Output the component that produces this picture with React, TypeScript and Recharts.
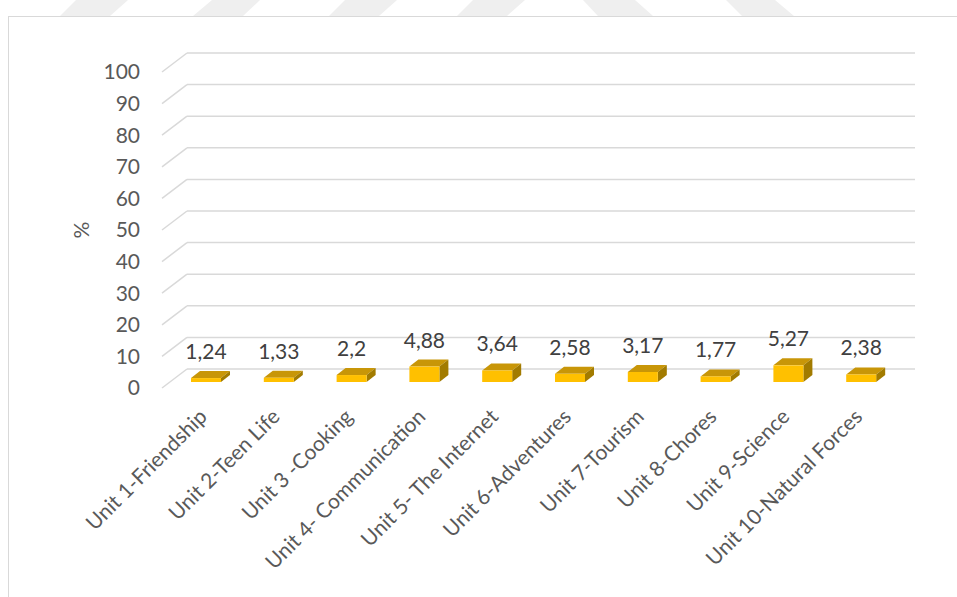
import React from 'react';
import { ComposedChart, Bar, XAxis, YAxis, CartesianGrid, LabelList } from 'recharts';

const categories = [
  'Unit 1-Friendship',
  'Unit 2-Teen Life',
  'Unit 3 -Cooking',
  'Unit 4- Communication',
  'Unit 5- The Internet',
  'Unit 6-Adventures',
  'Unit 7-Tourism',
  'Unit 8-Chores',
  'Unit 9-Science',
  'Unit 10-Natural Forces',
];
const values = [1.24, 1.33, 2.2, 4.88, 3.64, 2.58, 3.17, 1.77, 5.27, 2.38];
const yTicks = [0, 10, 20, 30, 40, 50, 60, 70, 80, 90, 100];

const data = categories.map((name, i) => ({ name, value: values[i] }));

// fake 3D: wall depth and where the bars sit inside it
const WALL_DX = 25;
const WALL_DY = 19;
const BAR_OFF_X = 8;
const BAR_OFF_Y = 6;
const BAR_DX = 9;
const BAR_DY = 7;

const FONT = 'Lato, "Open Sans", sans-serif';
const FS = 21;

const Box3D = (props: any) => {
  const { x, y, width, height } = props;
  const fx = x + BAR_OFF_X;
  const fy = y - BAR_OFF_Y;
  return (
    <g>
      <polygon
        points={`${fx},${fy} ${fx + BAR_DX},${fy - BAR_DY} ${fx + width + BAR_DX},${fy - BAR_DY} ${fx + width},${fy}`}
        fill="#C89608"
      />
      <polygon
        points={`${fx + width},${fy} ${fx + width + BAR_DX},${fy - BAR_DY} ${fx + width + BAR_DX},${fy + height - BAR_DY} ${fx + width},${fy + height}`}
        fill="#A27B00"
      />
      <rect x={fx} y={fy} width={width} height={height} fill="#FFC000" />
    </g>
  );
};

const GridLine = (p: any) => (
  <g key={p.key}>
    <line x1={p.x1} y1={p.y1} x2={p.x1 + WALL_DX} y2={p.y1 - WALL_DY} stroke="#D9D9D9" strokeWidth={1.5} />
    <line x1={p.x1 + WALL_DX} y1={p.y1 - WALL_DY} x2={p.x2 + WALL_DX} y2={p.y1 - WALL_DY} stroke="#D9D9D9" strokeWidth={1.5} />
  </g>
);

const CategoryTick = ({ x, y, payload }: any) => {
  const ax = x + 10;
  const ay = y + 30;
  return (
    <text
      x={ax}
      y={ay}
      transform={`rotate(-45, ${ax}, ${ay})`}
      textAnchor="end"
      fill="#595959"
      fontSize={FS}
      fontFamily={FONT}
    >
      {payload.value}
    </text>
  );
};

const ValueLabel = (p: any) => (
  <text
    x={p.x + p.width / 2 + BAR_OFF_X}
    y={p.y - BAR_OFF_Y - 19}
    textAnchor="middle"
    fill="#404040"
    fontSize={FS}
    fontFamily={FONT}
  >
    {String(p.value).replace('.', ',')}
  </text>
);

const App = () => {
  return (
    <div style={{ position: 'absolute', left: 0, top: 0, width: 957, height: 597, overflow: 'hidden', background: '#fff' }}>
      {/* watermark stripes at the top edge */}
      <svg width={957} height={16} style={{ position: 'absolute', left: 0, top: 0 }}>
        <polygon points="76,0 128,0 110,16 60,16" fill="#EFEFEF" />
        <polygon points="212,0 260,0 243,16 193,16" fill="#EFEFEF" />
        <polygon points="345,0 397,0 379,16 329,16" fill="#EFEFEF" />
        <polygon points="473,0 525,0 507,16 457,16" fill="#EFEFEF" />
        <polygon points="583,0 635,0 653,16 598,16" fill="#EFEFEF" />
        <polygon points="726,0 775,0 794,16 742,16" fill="#EFEFEF" />
      </svg>
      <div
        style={{
          position: 'absolute',
          left: 8,
          top: 16,
          width: 1000,
          height: 700,
          border: '1.5px solid #D9D9D9',
          boxSizing: 'border-box',
        }}
      />
      <div style={{ position: 'absolute', left: 0, top: 0 }}>
        <ComposedChart width={957} height={597} data={data} margin={{ top: 72, right: 67, bottom: 59, left: 102 }}>
          <CartesianGrid vertical={false} horizontal={GridLine} />
          <XAxis
            dataKey="name"
            axisLine={false}
            tickLine={false}
            tickSize={0}
            tickMargin={0}
            height={150}
            interval={0}
            tick={<CategoryTick />}
          />
          <YAxis
            domain={[0, 100]}
            ticks={yTicks}
            axisLine={false}
            tickLine={false}
            tickSize={0}
            tickMargin={22}
            width={60}
            tick={{ fill: '#595959', fontSize: FS, fontFamily: FONT }}
            label={{
              content: (lp: any) => (
                <text
                  x={lp.viewBox.x - 22}
                  y={lp.viewBox.y + lp.viewBox.height / 2}
                  transform={`rotate(-90, ${lp.viewBox.x - 22}, ${lp.viewBox.y + lp.viewBox.height / 2})`}
                  textAnchor="middle"
                  dominantBaseline="central"
                  fill="#595959"
                  fontSize={FS}
                  fontFamily={FONT}
                >
                  %
                </text>
              ),
            }}
          />
          <Bar dataKey="value" barSize={30} shape={<Box3D />} isAnimationActive={false}>
            <LabelList dataKey="value" content={<ValueLabel />} />
          </Bar>
        </ComposedChart>
      </div>
    </div>
  );
};

export default App;
